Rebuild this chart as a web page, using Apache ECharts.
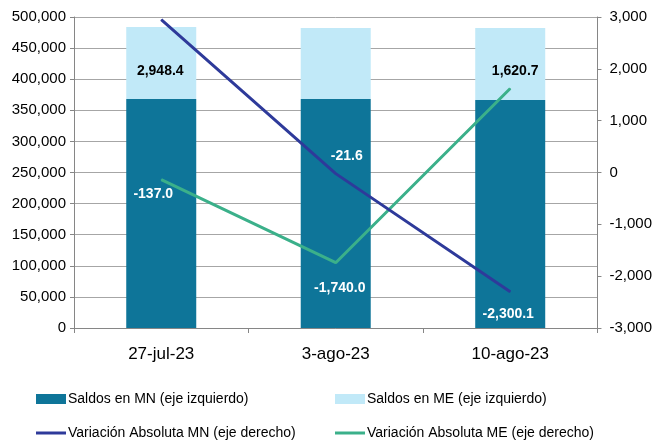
<!DOCTYPE html>
<html>
<head>
<meta charset="utf-8">
<script src="https://cdn.jsdelivr.net/npm/echarts@6/dist/echarts.min.js"></script>
<style>
  html, body { margin: 0; padding: 0; background: #fff; }
  #chart { width: 655px; height: 441px; }
</style>
</head>
<body>
<div id="chart"></div>
<script>
// datos
const fechas = ['27-jul-23', '3-ago-23', '10-ago-23'];
const saldosMN = [368000, 368000, 366500];
const saldosME = [115800, 114300, 115800];
const varMN = [2948.4, -21.6, -2300.1];
const varME = [-137.0, -1740.0, 1620.7];

// desplazamiento y color de las etiquetas (px)
const offMN = [[-1, 51], [11, -17], [-2, 22]];
const offME = [[-8, 15], [4, 25], [5, -17]];
const colMN = ['#000', '#fff', '#fff'];
const colME = ['#fff', '#fff', '#000'];

const FONT = 'Liberation Sans';
const fmt = v => v.toLocaleString('en-US', { minimumFractionDigits: 1, maximumFractionDigits: 1 });

function lineData(vals, offs, cols) {
  return vals.map((v, i) => ({
    value: v,
    label: {
      show: true,
      position: 'inside',
      offset: offs[i],
      color: cols[i],
      fontWeight: 'bold',
      fontSize: 14,
      fontFamily: FONT,
      formatter: p => fmt(p.value)
    }
  }));
}

const chart = echarts.init(document.getElementById('chart'));

const legendBase = {
  orient: 'horizontal',
  itemWidth: 30,
  itemGap: 0,
  textStyle: { fontFamily: FONT, fontSize: 14, color: '#000', padding: [0, 0, 0, -3] },
  selectedMode: false
};

chart.setOption({
  animation: false,
  grid: { left: 74, right: 57, top: 17, bottom: 113 },
  legend: [
    Object.assign({}, legendBase, { left: 31, top: 387, itemHeight: 10, data: [{ name: 'Saldos en MN (eje izquierdo)', icon: 'rect' }] }),
    Object.assign({}, legendBase, { left: 330, top: 387, itemHeight: 10, data: [{ name: 'Saldos en ME (eje izquierdo)', icon: 'rect' }] }),
    Object.assign({}, legendBase, { left: 31, top: 421, itemHeight: 3, data: [{ name: 'Variación Absoluta MN (eje derecho)', icon: 'rect' }] }),
    Object.assign({}, legendBase, { left: 330, top: 421, itemHeight: 3, data: [{ name: 'Variación Absoluta ME (eje derecho)', icon: 'rect' }] })
  ],
  xAxis: {
    type: 'category',
    data: fechas,
    axisLine: { lineStyle: { color: '#868686', width: 1 } },
    axisTick: { show: true, length: 5, lineStyle: { color: '#868686' } },
    axisLabel: { fontFamily: FONT, fontSize: 17, color: '#000', margin: 18 }
  },
  yAxis: [
    {
      type: 'value',
      min: 0, max: 500000, interval: 50000,
      axisLine: { show: true, lineStyle: { color: '#868686' } },
      axisTick: { show: true, length: 4, lineStyle: { color: '#868686' } },
      splitLine: { lineStyle: { color: '#a6a6a6', width: 1 } },
      axisLabel: {
        fontFamily: FONT, fontSize: 15, color: '#000', margin: 8,
        formatter: v => v.toLocaleString('en-US')
      }
    },
    {
      type: 'value',
      min: -3000, max: 3000, interval: 1000,
      position: 'right',
      axisLine: { show: true, lineStyle: { color: '#868686' } },
      axisTick: { show: true, length: 4, lineStyle: { color: '#868686' } },
      splitLine: { show: false },
      axisLabel: {
        fontFamily: FONT, fontSize: 15, color: '#000', margin: 12,
        formatter: v => v.toLocaleString('en-US')
      }
    }
  ],
  series: [
    {
      name: 'Saldos en MN (eje izquierdo)',
      type: 'bar', stack: 'saldos',
      barWidth: 70,
      itemStyle: { color: '#0e7599' },
      data: saldosMN
    },
    {
      name: 'Saldos en ME (eje izquierdo)',
      type: 'bar', stack: 'saldos',
      barWidth: 70,
      itemStyle: { color: '#c1e9f8' },
      data: saldosME
    },
    {
      name: 'Variación Absoluta MN (eje derecho)',
      type: 'line', yAxisIndex: 1,
      showSymbol: true, symbol: 'circle', symbolSize: 1,
      lineStyle: { color: '#2e3a9a', width: 3 },
      itemStyle: { color: '#2e3a9a' },
      data: lineData(varMN, offMN, colMN),
      z: 5
    },
    {
      name: 'Variación Absoluta ME (eje derecho)',
      type: 'line', yAxisIndex: 1,
      showSymbol: true, symbol: 'circle', symbolSize: 1,
      lineStyle: { color: '#3bb08a', width: 3 },
      itemStyle: { color: '#3bb08a' },
      data: lineData(varME, offME, colME),
      z: 4
    }
  ]
});
</script>
</body>
</html>
